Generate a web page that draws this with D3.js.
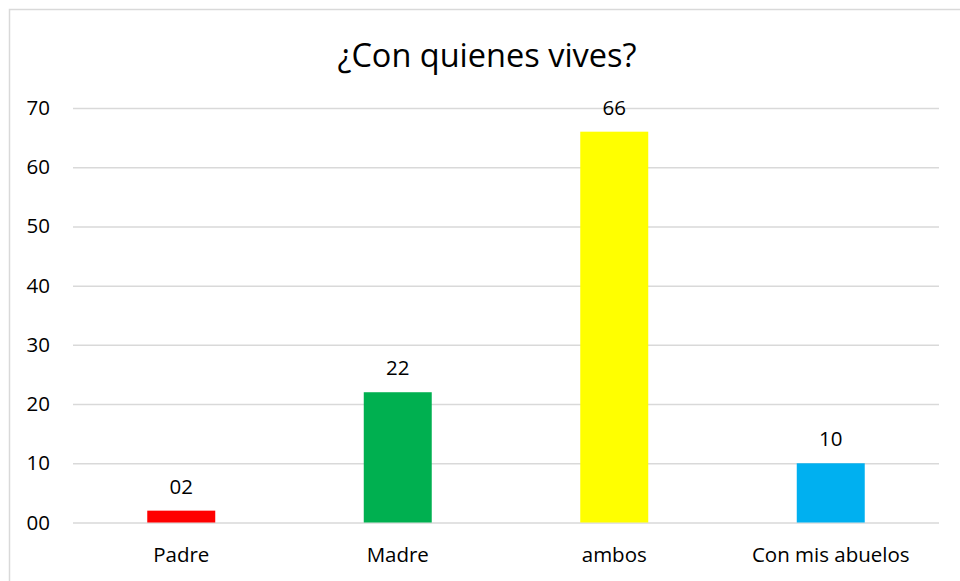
<!DOCTYPE html>
<html><head><meta charset="utf-8">
<script src="https://cdn.jsdelivr.net/npm/d3@7"></script>
<style>body{margin:0;background:#fff}svg{display:block}</style>
</head><body>
<svg id="c" width="960" height="581"></svg>
<script>
const categories = ["Padre", "Madre", "ambos", "Con mis abuelos"];
const values = [2, 22, 66, 10];
const valueLabels = ["02", "22", "66", "10"];
const colors = ["#FF0000", "#00B050", "#FFFF00", "#00B0F0"];
const tickValues = [0, 10, 20, 30, 40, 50, 60, 70];
const tickLabels = ["00", "10", "20", "30", "40", "50", "60", "70"];
const title = "¿Con quienes vives?";

const font = "'Open Sans', sans-serif";
const fs = 20.5;
const svg = d3.select("#c");
svg.append("rect").attr("x", 9.5).attr("y", 9.5).attr("width", 980).attr("height", 600)
  .attr("fill", "#fff").attr("stroke", "#d9d9d9").attr("stroke-width", 1.5);

const x = d3.scaleBand().domain(categories).range([73, 939]).paddingInner(0.686).paddingOuter(0.343);
const y = d3.scaleLinear().domain([0, 70]).range([522.5, 108]);

svg.append("text").attr("x", 487).attr("y", 67).attr("text-anchor", "middle")
  .attr("font-family", font).attr("font-size", 32.5).attr("fill", "#000").text(title);

const yAxis = d3.axisLeft(y).tickValues(tickValues).tickFormat((d, i) => tickLabels[i]).tickSize(-(939 - 73)).tickPadding(23);
const gy = svg.append("g").attr("transform", "translate(73,0)").call(yAxis);
gy.select(".domain").remove();
gy.selectAll(".tick line").attr("stroke", "#d9d9d9").attr("stroke-width", 1.5);
gy.selectAll(".tick text").attr("font-family", font).attr("font-size", fs).attr("fill", "#000");

const xAxis = d3.axisBottom(x).tickSize(0).tickPadding(25);
const gx = svg.append("g").attr("transform", "translate(0,522.5)").call(xAxis);
gx.select(".domain").remove();
gx.selectAll(".tick text").attr("font-family", font).attr("font-size", fs).attr("fill", "#000");

svg.append("g").selectAll("text").data(values).join("text")
  .attr("x", (d, i) => x(categories[i]) + x.bandwidth() / 2)
  .attr("y", d => y(d) - 17).attr("text-anchor", "middle")
  .attr("font-family", font).attr("font-size", fs).attr("fill", "#000")
  .text((d, i) => valueLabels[i]);

svg.append("g").selectAll("rect").data(values).join("rect")
  .attr("x", (d, i) => x(categories[i])).attr("width", x.bandwidth())
  .attr("y", d => y(d)).attr("height", d => y(0) - y(d))
  .attr("fill", (d, i) => colors[i]);
</script>
</body></html>
